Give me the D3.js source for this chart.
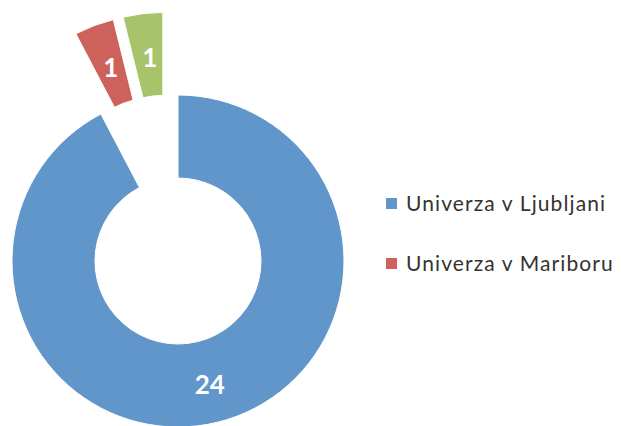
<!DOCTYPE html>
<html>
<head>
<meta charset="utf-8">
<script src="https://cdn.jsdelivr.net/npm/d3@7"></script>
<style>
  html, body { margin: 0; padding: 0; background: #fff; }
  svg { display: block; }
</style>
</head>
<body>
<svg id="chart" width="622" height="426"></svg>
<script>
// data
const universities = ["Univerza v Ljubljani", "Univerza v Mariboru", "Univerza na Primorskem"];
const counts = [24, 1, 1];
const colors = ["#6096ca", "#cd625d", "#a7c46a"];
// the original legend only had room for the first two entries
const legendShown = 2;

const svg = d3.select("#chart"),
      cx = 178, cy = 261,
      outerR = 166, innerR = 83,
      explode = 84;

const pie = d3.pie().sort(null).value(d => d);
const arc = d3.arc().innerRadius(innerR).outerRadius(outerR);
const arcs = pie(counts);

// the pulled-out slices move roughly as a group, so aim each one halfway
// between its own middle and the middle of the whole pulled-out block
const pulled = arcs.slice(1);
const groupMid = (pulled[0].startAngle + pulled[pulled.length - 1].endAngle) / 2;

function offset(d, i) {
  if (i === 0) return [0, 0];
  let mid = ((d.startAngle + d.endAngle) / 2 + groupMid) / 2;
  return [explode * Math.sin(mid), -explode * Math.cos(mid)];
}

const g = svg.append("g")
  .attr("transform", `translate(${cx}, ${cy})`);

const slice = g.selectAll("g.slice")
  .data(arcs)
  .enter()
  .append("g")
  .attr("class", "slice")
  .attr("transform", (d, i) => {
    let [dx, dy] = offset(d, i);
    return `translate(${dx}, ${dy})`;
  });

slice.append("path")
  .attr("d", arc)
  .attr("fill", (d, i) => colors[i])
  .attr("stroke", "#fff")
  .attr("stroke-width", 1);

slice.append("text")
  .attr("transform", d => {
    let [x, y] = arc.centroid(d);
    return `translate(${x + 2}, ${y + 3})`;
  })
  .attr("text-anchor", "middle")
  .attr("dy", "0.36em")
  .style("font", "bold 26px Lato, 'Open Sans', sans-serif")
  .style("fill", "#fff")
  .text(d => d.data);

// legend
const legend = svg.append("g")
  .attr("transform", "translate(386, 204)");

const item = legend.selectAll("g.item")
  .data(universities.slice(0, legendShown))
  .enter()
  .append("g")
  .attr("class", "item")
  .attr("transform", (d, i) => `translate(0, ${i * 60})`);

item.append("rect")
  .attr("x", 0)
  .attr("y", -6)
  .attr("width", 11)
  .attr("height", 11)
  .attr("fill", (d, i) => colors[i]);

item.append("text")
  .attr("x", 20)
  .attr("dy", "0.35em")
  .style("font", "21px Lato, 'Open Sans', sans-serif")
  .style("letter-spacing", "1.1px")
  .style("fill", "#333")
  .text(d => d);
</script>
</body>
</html>
